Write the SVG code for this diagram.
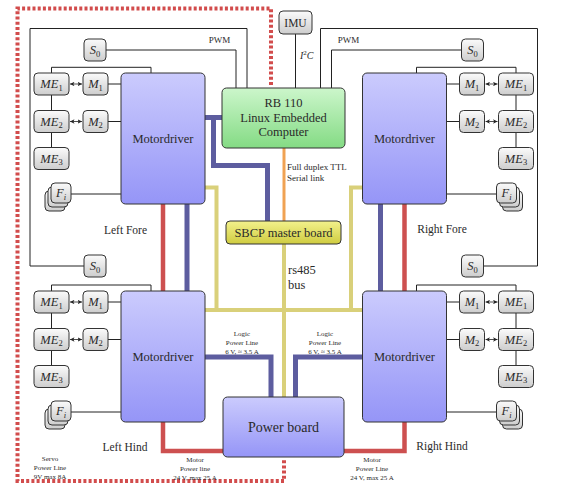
<svg xmlns="http://www.w3.org/2000/svg" width="581" height="487" viewBox="0 0 581 487">
<defs>
<linearGradient id="gBlue" x1="0" y1="0" x2="0" y2="1"><stop offset="0" stop-color="#cbcbfd"/><stop offset="1" stop-color="#9595f7"/></linearGradient>
<linearGradient id="gGreen" x1="0" y1="0" x2="0" y2="1"><stop offset="0" stop-color="#ccf6cb"/><stop offset="1" stop-color="#84db84"/></linearGradient>
<linearGradient id="gYel" x1="0" y1="0" x2="0" y2="1"><stop offset="0" stop-color="#f3f18c"/><stop offset="1" stop-color="#cfcc40"/></linearGradient>
<linearGradient id="gGray" x1="0" y1="0" x2="0" y2="1"><stop offset="0" stop-color="#fbfbfb"/><stop offset="1" stop-color="#cdcdcd"/></linearGradient>
<marker id="ah" viewBox="0 0 6 6" refX="6" refY="3" markerWidth="4.5" markerHeight="4.5" orient="auto-start-reverse" markerUnits="userSpaceOnUse"><path d="M0,0 L6,3 L0,6 L1.6,3 z" fill="#222"/></marker>
</defs>
<style>
.box{stroke:#333;stroke-width:1}
.md{fill:url(#gBlue)}
.sm{fill:url(#gGray)}
.thin{fill:none;stroke:#222;stroke-width:1}
.red{fill:none;stroke:#cd5050;stroke-width:4.5}
.blue{fill:none;stroke:#5d5d9f;stroke-width:5}
.yel{fill:none;stroke:#d9d07a;stroke-width:4}
.org{fill:none;stroke:#f0a253;stroke-width:3}
.dot{fill:none;stroke:#d24c4c;stroke-width:4;stroke-dasharray:3 2.2}
.dbl{fill:none;stroke:#222;stroke-width:0.8;marker-start:url(#ah);marker-end:url(#ah)}
text{font-family:"Liberation Serif","DejaVu Serif",serif;fill:#2a2a2a}
.c{text-anchor:middle}
.t12{font-size:12.5px}
.t11{font-size:11.5px}
.t9{font-size:9px}
.t7{font-size:7px}
.m{font-size:12.5px;text-anchor:middle}
.i{font-style:italic}
</style>
<rect width="581" height="487" fill="#fff"/>

<g id="connectors">
<!-- red dotted servo power line -->
<path class="dot" d="M271,85 V8.5 H17.5 V481 H284 V458"/>
<!-- thick lines -->
<path class="blue" d="M205,117.5 H222 M213.5,117.5 V165.5 H267.5 V221"/>
<path class="yel" d="M205,187.5 H216.5 V310 M362,187.5 H351 V310 M205,310 H362 M284,244 V397"/>
<path class="org" d="M284,148 V221"/>
<path class="red" d="M163,204 V291 M404.5,204 V291"/>
<path class="blue" d="M187,204 V291 M380.5,204 V291"/>
<path class="blue" d="M205,357 H271 V397 M362,357 H295.5 V397"/>
<path class="red" d="M163,422 V451 H223 M344,451 H404.5 V422"/>
<!-- thin lines left -->
<path class="thin" d="M84,266 H30 V28.5 H247 V88"/>
<path class="thin" d="M106,50 H236 V88"/>
<path class="thin" d="M51.5,73 V67.3 H151 V73 M51.5,95 V110.5 M51.5,132.5 V147.5"/>
<path class="thin" d="M108,84 H121 M108,121.5 H121 M71,194 H121"/>
<path class="thin" d="M51.5,291 V285 H151 V291 M51.5,313 V328.5 M51.5,350.5 V365.5"/>
<path class="thin" d="M108,302 H121 M108,339.5 H121 M71,412 H121"/>
<!-- thin lines right -->
<path class="thin" d="M483.5,266 H537.5 V28.5 H320.5 V88"/>
<path class="thin" d="M461.5,50 H331.5 V88"/>
<path class="thin" d="M516,73 V67.3 H416.5 V73 M516,95 V110.5 M516,132.5 V147.5"/>
<path class="thin" d="M447,84 H459.5 M447,121.5 H459.5 M447,194 H496.5"/>
<path class="thin" d="M516,291 V285 H416.5 V291 M516,313 V328.5 M516,350.5 V365.5"/>
<path class="thin" d="M447,302 H459.5 M447,339.5 H459.5 M447,412 H496.5"/>
<!-- IMU -->
<path class="thin" d="M295.5,34 V88"/>
<!-- double arrows -->
<path class="dbl" d="M70,84 H82"/>
<path class="dbl" d="M70,121.5 H82"/>
<path class="dbl" d="M70,302 H82"/>
<path class="dbl" d="M70,339.5 H82"/>
<path class="dbl" d="M485.5,84 H497.5"/>
<path class="dbl" d="M485.5,121.5 H497.5"/>
<path class="dbl" d="M485.5,302 H497.5"/>
<path class="dbl" d="M485.5,339.5 H497.5"/>
</g>

<g id="labels">
<text class="t9 c" x="219.5" y="43">PWM</text>
<text class="t9 c" x="348.5" y="43">PWM</text>
<text x="300" y="59" style="font-size:10px"><tspan class="i">I</tspan><tspan font-size="7" dy="-4">2</tspan><tspan class="i" dy="4">C</tspan></text>
<text class="t9" x="287" y="170">Full duplex TTL</text>
<text class="t9" x="287" y="181">Serial link</text>
<text class="t12" x="288" y="274">rs485</text>
<text class="t12" x="288" y="289">bus</text>
<text class="t11 c" x="125.5" y="234">Left Fore</text>
<text class="t11 c" x="442" y="233">Right Fore</text>
<text class="t11 c" x="125" y="451">Left Hind</text>
<text class="t11 c" x="442" y="450">Right Hind</text>
<text class="t7 c" x="242" y="336">Logic</text>
<text class="t7 c" x="242" y="345">Power Line</text>
<text class="t7 c" x="242" y="353.5">6 V, ≈ 3.5 A</text>
<text class="t7 c" x="325" y="336">Logic</text>
<text class="t7 c" x="325" y="345">Power Line</text>
<text class="t7 c" x="325" y="353.5">6 V, ≈ 3.5 A</text>
<text class="t7 c" x="50" y="461">Servo</text>
<text class="t7 c" x="50" y="470">Power Line</text>
<text class="t7 c" x="50" y="479">9V max 8A</text>
<text class="t7 c" x="195" y="462">Motor</text>
<text class="t7 c" x="195" y="471">Power line</text>
<text class="t7 c" x="195" y="480">24 V, max 25 A</text>
<text class="t7 c" x="372" y="462">Motor</text>
<text class="t7 c" x="372" y="471">Power Line</text>
<text class="t7 c" x="372" y="480">24 V, max 25 A</text>
</g>

<g id="imu"><rect class="box sm" x="279" y="11" width="33" height="23" rx="4"/><text class="c" x="295.5" y="27" style="font-size:11.5px">IMU</text></g>
<g id="rb110"><rect class="box" fill="url(#gGreen)" x="222" y="88" width="123" height="60" rx="4.5"/><text class="t12 c" x="283.5" y="107">RB 110</text><text class="t12 c" x="283.5" y="121.5">Linux Embedded</text><text class="t12 c" x="283.5" y="136">Computer</text></g>
<g id="sbcp"><rect class="box" fill="url(#gYel)" x="226" y="221" width="115" height="23" rx="4"/><text class="c" x="283.5" y="237" style="font-size:12.5px">SBCP master board</text></g>
<g id="powerboard"><rect class="box md" x="223" y="397" width="121" height="60" rx="4.5"/><text class="c" x="283.5" y="432" style="font-size:14px">Power board</text></g>

<g id="md-lf"><rect class="box md" x="121" y="73" width="84" height="131" rx="4.5"/><text class="t12 c" x="163" y="143">Motordriver</text></g>
<g id="md-rf"><rect class="box md" x="362.5" y="73" width="84" height="131" rx="4.5"/><text class="t12 c" x="404.5" y="143">Motordriver</text></g>
<g id="md-lh"><rect class="box md" x="121" y="291" width="84" height="131" rx="4.5"/><text class="t12 c" x="163" y="361">Motordriver</text></g>
<g id="md-rh"><rect class="box md" x="362.5" y="291" width="84" height="131" rx="4.5"/><text class="t12 c" x="404.5" y="361">Motordriver</text></g>

<!-- Left Fore small nodes -->
<g id="s0-lf"><rect class="box sm" x="84" y="39" width="22" height="22" rx="4"/><text class="m" x="95" y="54"><tspan class="i">S</tspan><tspan font-size="8.5" dy="2.5">0</tspan></text></g>
<g id="me1-lf"><rect class="box sm" x="34" y="73" width="35" height="22" rx="4"/><text class="m" x="51.5" y="88"><tspan class="i">ME</tspan><tspan font-size="8.5" dy="2.5">1</tspan></text></g>
<g id="m1-lf"><rect class="box sm" x="83" y="73" width="25" height="22" rx="4"/><text class="m" x="95.5" y="88"><tspan class="i">M</tspan><tspan font-size="8.5" dy="2.5">1</tspan></text></g>
<g id="me2-lf"><rect class="box sm" x="34" y="110.5" width="35" height="22" rx="4"/><text class="m" x="51.5" y="125.5"><tspan class="i">ME</tspan><tspan font-size="8.5" dy="2.5">2</tspan></text></g>
<g id="m2-lf"><rect class="box sm" x="83" y="110.5" width="25" height="22" rx="4"/><text class="m" x="95.5" y="125.5"><tspan class="i">M</tspan><tspan font-size="8.5" dy="2.5">2</tspan></text></g>
<g id="me3-lf"><rect class="box sm" x="34" y="147.5" width="35" height="22" rx="4"/><text class="m" x="51.5" y="162.5"><tspan class="i">ME</tspan><tspan font-size="8.5" dy="2.5">3</tspan></text></g>
<g id="fi-lf"><rect class="box sm" x="45" y="191" width="20" height="20" rx="4"/><rect class="box sm" x="48" y="187" width="20" height="20" rx="4"/><rect class="box sm" x="51" y="183" width="20" height="20" rx="4"/><text class="m" x="61" y="197"><tspan class="i">F</tspan><tspan class="i" font-size="8.5" dy="2.5">i</tspan></text></g>

<!-- Left Hind small nodes -->
<g id="s0-lh"><rect class="box sm" x="84" y="255" width="22" height="22" rx="4"/><text class="m" x="95" y="270"><tspan class="i">S</tspan><tspan font-size="8.5" dy="2.5">0</tspan></text></g>
<g id="me1-lh"><rect class="box sm" x="34" y="291" width="35" height="22" rx="4"/><text class="m" x="51.5" y="306"><tspan class="i">ME</tspan><tspan font-size="8.5" dy="2.5">1</tspan></text></g>
<g id="m1-lh"><rect class="box sm" x="83" y="291" width="25" height="22" rx="4"/><text class="m" x="95.5" y="306"><tspan class="i">M</tspan><tspan font-size="8.5" dy="2.5">1</tspan></text></g>
<g id="me2-lh"><rect class="box sm" x="34" y="328.5" width="35" height="22" rx="4"/><text class="m" x="51.5" y="343.5"><tspan class="i">ME</tspan><tspan font-size="8.5" dy="2.5">2</tspan></text></g>
<g id="m2-lh"><rect class="box sm" x="83" y="328.5" width="25" height="22" rx="4"/><text class="m" x="95.5" y="343.5"><tspan class="i">M</tspan><tspan font-size="8.5" dy="2.5">2</tspan></text></g>
<g id="me3-lh"><rect class="box sm" x="34" y="365.5" width="35" height="22" rx="4"/><text class="m" x="51.5" y="380.5"><tspan class="i">ME</tspan><tspan font-size="8.5" dy="2.5">3</tspan></text></g>
<g id="fi-lh"><rect class="box sm" x="45" y="409" width="20" height="20" rx="4"/><rect class="box sm" x="48" y="405" width="20" height="20" rx="4"/><rect class="box sm" x="51" y="401" width="20" height="20" rx="4"/><text class="m" x="61" y="415"><tspan class="i">F</tspan><tspan class="i" font-size="8.5" dy="2.5">i</tspan></text></g>

<!-- Right Fore small nodes -->
<g id="s0-rf"><rect class="box sm" x="461.5" y="39" width="22" height="22" rx="4"/><text class="m" x="472.5" y="54"><tspan class="i">S</tspan><tspan font-size="8.5" dy="2.5">0</tspan></text></g>
<g id="m1-rf"><rect class="box sm" x="459.5" y="73" width="25" height="22" rx="4"/><text class="m" x="472" y="88"><tspan class="i">M</tspan><tspan font-size="8.5" dy="2.5">1</tspan></text></g>
<g id="me1-rf"><rect class="box sm" x="498.5" y="73" width="35" height="22" rx="4"/><text class="m" x="516" y="88"><tspan class="i">ME</tspan><tspan font-size="8.5" dy="2.5">1</tspan></text></g>
<g id="m2-rf"><rect class="box sm" x="459.5" y="110.5" width="25" height="22" rx="4"/><text class="m" x="472" y="125.5"><tspan class="i">M</tspan><tspan font-size="8.5" dy="2.5">2</tspan></text></g>
<g id="me2-rf"><rect class="box sm" x="498.5" y="110.5" width="35" height="22" rx="4"/><text class="m" x="516" y="125.5"><tspan class="i">ME</tspan><tspan font-size="8.5" dy="2.5">2</tspan></text></g>
<g id="me3-rf"><rect class="box sm" x="498.5" y="147.5" width="35" height="22" rx="4"/><text class="m" x="516" y="162.5"><tspan class="i">ME</tspan><tspan font-size="8.5" dy="2.5">3</tspan></text></g>
<g id="fi-rf"><rect class="box sm" x="502.5" y="191" width="20" height="20" rx="4"/><rect class="box sm" x="499.5" y="187" width="20" height="20" rx="4"/><rect class="box sm" x="496.5" y="183" width="20" height="20" rx="4"/><text class="m" x="506.5" y="197"><tspan class="i">F</tspan><tspan class="i" font-size="8.5" dy="2.5">i</tspan></text></g>

<!-- Right Hind small nodes -->
<g id="s0-rh"><rect class="box sm" x="461.5" y="255" width="22" height="22" rx="4"/><text class="m" x="472.5" y="270"><tspan class="i">S</tspan><tspan font-size="8.5" dy="2.5">0</tspan></text></g>
<g id="m1-rh"><rect class="box sm" x="459.5" y="291" width="25" height="22" rx="4"/><text class="m" x="472" y="306"><tspan class="i">M</tspan><tspan font-size="8.5" dy="2.5">1</tspan></text></g>
<g id="me1-rh"><rect class="box sm" x="498.5" y="291" width="35" height="22" rx="4"/><text class="m" x="516" y="306"><tspan class="i">ME</tspan><tspan font-size="8.5" dy="2.5">1</tspan></text></g>
<g id="m2-rh"><rect class="box sm" x="459.5" y="328.5" width="25" height="22" rx="4"/><text class="m" x="472" y="343.5"><tspan class="i">M</tspan><tspan font-size="8.5" dy="2.5">2</tspan></text></g>
<g id="me2-rh"><rect class="box sm" x="498.5" y="328.5" width="35" height="22" rx="4"/><text class="m" x="516" y="343.5"><tspan class="i">ME</tspan><tspan font-size="8.5" dy="2.5">2</tspan></text></g>
<g id="me3-rh"><rect class="box sm" x="498.5" y="365.5" width="35" height="22" rx="4"/><text class="m" x="516" y="380.5"><tspan class="i">ME</tspan><tspan font-size="8.5" dy="2.5">3</tspan></text></g>
<g id="fi-rh"><rect class="box sm" x="502.5" y="409" width="20" height="20" rx="4"/><rect class="box sm" x="499.5" y="405" width="20" height="20" rx="4"/><rect class="box sm" x="496.5" y="401" width="20" height="20" rx="4"/><text class="m" x="506.5" y="415"><tspan class="i">F</tspan><tspan class="i" font-size="8.5" dy="2.5">i</tspan></text></g>
</svg>
